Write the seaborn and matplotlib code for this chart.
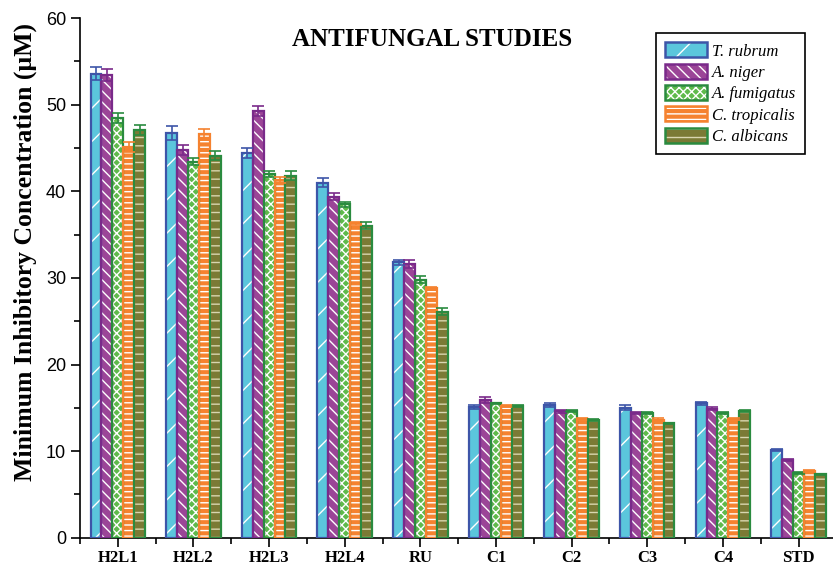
# Antifungal MIC grouped bar chart
import pandas as pd
import matplotlib.pyplot as plt
import matplotlib.patches as mpatches
from matplotlib.ticker import MultipleLocator, AutoMinorLocator
import seaborn as sns

# Data
compounds = ['H2L1', 'H2L2', 'H2L3', 'H2L4', 'RU', 'C1', 'C2', 'C3', 'C4', 'STD']
fungi = ['T. rubrum', 'A. niger', 'A. fumigatus', 'C. tropicalis', 'C. albicans']

t_rubrum = [53.6, 46.7, 44.4, 41.0, 31.8, 15.1, 15.3, 15.0, 15.5, 10.1]
a_niger = [53.4, 44.8, 49.3, 39.4, 31.6, 15.9, 14.6, 14.4, 14.9, 9.0]
a_fumigatus = [48.5, 43.4, 42.0, 38.5, 29.8, 15.5, 14.6, 14.4, 14.4, 7.5]
c_tropicalis = [45.1, 46.6, 41.3, 36.3, 28.8, 15.2, 13.7, 13.6, 13.7, 7.7]
c_albicans = [47.1, 44.1, 41.8, 36.0, 26.1, 15.2, 13.6, 13.2, 14.6, 7.3]

err_rubrum = [0.8, 0.8, 0.6, 0.5, 0.3, 0.2, 0.2, 0.3, 0.2, 0.1]
err_niger = [0.7, 0.6, 0.6, 0.4, 0.5, 0.4, 0.2, 0.1, 0.2, 0.1]
err_fumigatus = [0.6, 0.4, 0.3, 0.3, 0.4, 0.1, 0.1, 0.1, 0.1, 0.1]
err_tropicalis = [0.6, 0.6, 0.3, 0.2, 0.2, 0.1, 0.1, 0.2, 0.1, 0.1]
err_albicans = [0.6, 0.5, 0.5, 0.4, 0.4, 0.1, 0.1, 0.1, 0.1, 0.1]

values = [t_rubrum, a_niger, a_fumigatus, c_tropicalis, c_albicans]
errors = [err_rubrum, err_niger, err_fumigatus, err_tropicalis, err_albicans]

# Styles
fill_colors = ['#5bc6dc', '#9b4597', '#5fba4b', '#f5822f', '#7b7a35']
edge_colors = ['#3d55a8', '#7a2a8a', '#2a8b3f', '#f5822f', '#2a8b3f']
hatch_colors = ['white', 'white', 'white', 'white', '#d9d6b0']
hatches = ['/', '\\\\\\', 'xxxx', '---', '--']

df = pd.DataFrame({
    'compound': compounds * len(fungi),
    'fungus': [f for f in fungi for _ in compounds],
    'mic': [v for series in values for v in series],
})

plt.rcParams['hatch.linewidth'] = 1.0
plt.rcParams['font.family'] = 'Liberation Sans'

fig = plt.figure(figsize=(8.33, 5.66), dpi=100)
ax = fig.add_axes([0.096, 0.05, 0.908, 0.918])

sns.barplot(data=df, x='compound', y='mic', hue='fungus', hue_order=fungi,
            palette=fill_colors, width=0.72, errorbar=None, saturation=1,
            ax=ax, legend=False)

# hatch in light colour, outline drawn on top in the edge colour
bar_groups = list(ax.containers)
for i, container in enumerate(bar_groups):
    xs, hs, w = [], [], None
    for bar in container:
        bar.set_hatch(hatches[i])
        bar.set_edgecolor(hatch_colors[i])
        bar.set_linewidth(0)
        xs.append(bar.get_x() + bar.get_width() / 2)
        hs.append(bar.get_height())
        w = bar.get_width()
    ax.bar(xs, hs, width=w, fill=False, edgecolor=edge_colors[i],
           linewidth=1.6, zorder=3)
    ax.errorbar(xs, hs, yerr=errors[i], fmt='none', ecolor=edge_colors[i],
                elinewidth=1.2, capsize=4, capthick=1.2, zorder=4)

ax.set_xlim(-0.5, 9.5)
ax.set_ylim(0, 60)
ax.yaxis.set_major_locator(MultipleLocator(10))
ax.yaxis.set_minor_locator(MultipleLocator(5))
ax.xaxis.set_minor_locator(AutoMinorLocator(2))
ax.tick_params(axis='both', which='major', direction='out', length=6.5, width=1.2)
ax.tick_params(axis='both', which='minor', direction='out', length=4, width=1.2)
ax.tick_params(axis='y', labelsize=13)
ax.tick_params(axis='x', labelsize=12, pad=2.5)
for lab in ax.get_xticklabels():
    lab.set_fontfamily('Liberation Serif')
    lab.set_fontweight('bold')

ax.spines['top'].set_visible(False)
ax.spines['right'].set_visible(False)
ax.spines['left'].set_linewidth(1.2)
ax.spines['bottom'].set_linewidth(1.2)

ax.set_xlabel('')
ax.set_ylabel('Minimum Inhibitory Concentration (μM)', fontsize=18.5,
              fontweight='bold', fontfamily='Liberation Serif')
ax.yaxis.set_label_coords(-0.057, 0.55)
ax.text(0.466, 0.958, 'ANTIFUNGAL STUDIES', transform=ax.transAxes,
        ha='center', va='center', fontsize=18, fontweight='bold',
        fontfamily='Liberation Serif')

# Legend with matching patterns (white hatch under a coloured outline)
handles = []
for i, name in enumerate(fungi):
    body = mpatches.Patch(facecolor=fill_colors[i], edgecolor=hatch_colors[i],
                          hatch=hatches[i], linewidth=0)
    outline = mpatches.Patch(facecolor='none', edgecolor=edge_colors[i], linewidth=1.8)
    handles.append((body, outline))
leg = ax.legend(handles=handles, labels=fungi, loc='upper right',
                bbox_to_anchor=(0.959, 0.971), borderaxespad=0,
                frameon=True, fancybox=False, edgecolor='black', framealpha=1,
                prop={'family': 'Liberation Serif', 'style': 'italic', 'size': 12},
                handlelength=2.5, handleheight=1.0, handletextpad=0.3,
                labelspacing=0.25, borderpad=0.55)
leg.get_frame().set_linewidth(1.2)

fig.savefig('out.png', dpi=100)
